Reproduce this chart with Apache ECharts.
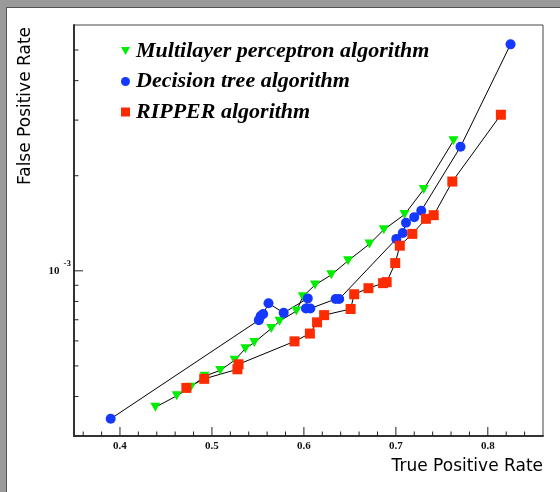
<!DOCTYPE html>
<html><head><meta charset="utf-8">
<script src="https://cdn.jsdelivr.net/npm/echarts@6/dist/echarts.min.js"></script>
<style>html,body{margin:0;padding:0;background:#fff}#c{width:560px;height:492px}</style>
</head><body><div id="c"></div>
<script>
// ---- data ----
const seriesNames = ['Multilayer perceptron algorithm', 'Decision tree algorithm', 'RIPPER algorithm'];

const mlpTPR = [0.4385, 0.4617, 0.477, 0.492, 0.509, 0.5246, 0.5363, 0.546, 0.5646, 0.5735, 0.5918, 0.5988, 0.612, 0.6298, 0.648, 0.6713, 0.6869, 0.7094, 0.7303, 0.7626];
const mlpFPR = [3.70e-4, 4.02e-4, 4.28e-4, 4.64e-4, 4.84e-4, 5.21e-4, 5.67e-4, 5.93e-4, 6.57e-4, 6.93e-4, 7.46e-4, 8.28e-4, 9.02e-4, 9.71e-4, 1.076e-3, 1.216e-3, 1.35e-3, 1.507e-3, 1.81e-3, 2.58e-3];

const dtTPR = [0.3899, 0.551, 0.553, 0.5557, 0.5615, 0.578, 0.6042, 0.6022, 0.607, 0.6345, 0.6384, 0.7005, 0.7075, 0.711, 0.72, 0.7276, 0.7703, 0.8247];
const dtFPR = [3.40e-4, 6.98e-4, 7.19e-4, 7.30e-4, 7.89e-4, 7.36e-4, 8.18e-4, 7.60e-4, 7.60e-4, 8.14e-4, 8.14e-4, 1.262e-3, 1.318e-3, 1.419e-3, 1.479e-3, 1.55e-3, 2.47e-3, 5.21e-3];

const ripTPR = [0.4722, 0.4916, 0.5277, 0.5289, 0.5898, 0.6065, 0.6143, 0.622, 0.6508, 0.6547, 0.6702, 0.6861, 0.69, 0.6993, 0.7043, 0.7179, 0.7327, 0.7412, 0.7614, 0.8142];
const ripFPR = [4.26e-4, 4.55e-4, 4.88e-4, 5.06e-4, 5.98e-4, 6.33e-4, 6.87e-4, 7.24e-4, 7.57e-4, 8.43e-4, 8.81e-4, 9.14e-4, 9.21e-4, 1.058e-3, 1.201e-3, 1.309e-3, 1.461e-3, 1.50e-3, 1.917e-3, 3.12e-3];

const X_MIN = 0.35, X_MAX = 0.86;
const Y_MIN = 3e-4, Y_MAX = 6e-3;
const xTickLabels = ['0.4', '0.5', '0.6', '0.7', '0.8'];
const xMajorTicks = [0.4, 0.5, 0.6, 0.7, 0.8];
const xMinorTicks = [0.36, 0.38, 0.42, 0.44, 0.46, 0.48, 0.52, 0.54, 0.56, 0.58, 0.62, 0.64, 0.66, 0.68, 0.72, 0.74, 0.76, 0.78, 0.82, 0.84];
const yMajorTicks = [1e-3];
const yMinorTicks = [4e-4, 5e-4, 6e-4, 7e-4, 8e-4, 9e-4, 2e-3, 3e-3, 4e-3, 5e-3];

// ---- chart ----
const TRI = 'path://M0,0 L10,0 L5,9 Z';
const chart = echarts.init(document.getElementById('c'), null, {renderer: 'canvas'});

function tickSeries(values, axis, len) {
  return {
    type: 'custom', silent: true, z: 4, animation: false,
    data: values.map(v => axis === 'x' ? [v, Y_MIN] : [X_MIN, v]),
    renderItem: (params, api) => {
      const p = api.coord([api.value(0), api.value(1)]);
      const shape = axis === 'x'
        ? {x1: p[0], y1: p[1], x2: p[0], y2: p[1] - len}
        : {x1: p[0], y1: p[1], x2: p[0] + len, y2: p[1]};
      return {type: 'line', shape, style: {stroke: '#222', lineWidth: 1}};
    }
  };
}

function pts(xs, ys) { return xs.map((x, i) => [x, ys[i]]); }

const option = {
  backgroundColor: '#fff',
  animation: false,
  grid: {left: 74, right: 17, top: 25, bottom: 56, show: true, borderColor: '#444', borderWidth: 1, containLabel: false, outerBoundsMode: 'none'},
  xAxis: {
    type: 'value', min: X_MIN, max: X_MAX,
    axisLine: {lineStyle: {color: '#333', width: 2}},
    axisTick: {show: false}, splitLine: {show: false},
    axisLabel: {
      margin: 5, color: '#111', fontFamily: 'Liberation Serif', fontWeight: 'bold', fontSize: 11,
      formatter: v => { const s = v.toFixed(1); return (Math.abs(v - Number(s)) < 1e-9 && xTickLabels.includes(s)) ? s : ''; }
    }
  },
  yAxis: {
    type: 'log', logBase: 10, min: Y_MIN, max: Y_MAX,
    axisLine: {lineStyle: {color: '#333', width: 2}},
    axisTick: {show: false}, splitLine: {show: false}, minorTick: {show: false},
    axisLabel: {
      margin: 3, color: '#111',
      formatter: v => Math.abs(Math.log10(v) + 3) < 1e-6 ? '{a|10}{b|-3}' : '',
      rich: {
        a: {fontFamily: 'Liberation Serif', fontWeight: 'bold', fontSize: 11, lineHeight: 24, verticalAlign: 'middle', color: '#111'},
        b: {fontFamily: 'Liberation Serif', fontWeight: 'bold', fontSize: 9, lineHeight: 9, verticalAlign: 'top', padding: [0, 0, 0, 4], color: '#111'}
      }
    }
  },
  legend: {
    orient: 'vertical', left: 116, top: 35, itemWidth: 9, itemHeight: 9, itemGap: 8.5,
    selectedMode: false,
    lineStyle: {opacity: 0},
    textStyle: {fontFamily: 'Liberation Serif', fontStyle: 'italic', fontWeight: 'bold', fontSize: 22, lineHeight: 22, color: '#000', padding: [0, 0, 0, 1]},
    data: [{name: seriesNames[0], icon: TRI}, {name: seriesNames[1], icon: 'circle'}, {name: seriesNames[2], icon: 'rect'}]
  },
  graphic: [
    {type: 'rect', z: 100, shape: {x: 0, y: 0, width: 560, height: 7}, style: {fill: '#9a9a9a'}},
    {type: 'rect', z: 100, shape: {x: 0, y: 0, width: 6, height: 492}, style: {fill: '#9a9a9a'}},
    {type: 'line', z: 100, shape: {x1: 6, y1: 7.5, x2: 560, y2: 7.5}, style: {stroke: '#555', lineWidth: 1}},
    {type: 'line', z: 100, shape: {x1: 6.5, y1: 7, x2: 6.5, y2: 492}, style: {stroke: '#555', lineWidth: 1}},
    {type: 'text', z: 100, x: 26, y: 27, rotation: Math.PI / 2,
      style: {text: 'False Positive Rate', fontFamily: 'DejaVu Sans', fontSize: 17, fill: '#000', align: 'right', verticalAlign: 'middle'}},
    {type: 'text', z: 100, x: 543, y: 467,
      style: {text: 'True Positive Rate', fontFamily: 'DejaVu Sans', fontSize: 17, fill: '#000', align: 'right', verticalAlign: 'middle'}}
  ],
  series: [
    {type: 'line', name: seriesNames[0], data: pts(mlpTPR, mlpFPR), symbol: TRI, symbolSize: [10, 9],
      itemStyle: {color: '#00ee00'}, lineStyle: {color: '#000', width: 1}, showAllSymbol: true},
    {type: 'line', name: seriesNames[1], data: pts(dtTPR, dtFPR), symbol: 'circle', symbolSize: 10,
      itemStyle: {color: '#1438ff'}, lineStyle: {color: '#000', width: 1}, showAllSymbol: true},
    {type: 'line', name: seriesNames[2], data: pts(ripTPR, ripFPR), symbol: 'rect', symbolSize: 10,
      itemStyle: {color: '#ff2b00'}, lineStyle: {color: '#000', width: 1}, showAllSymbol: true},
    tickSeries(xMajorTicks, 'x', 9),
    tickSeries(xMinorTicks, 'x', 4.5),
    tickSeries(yMajorTicks, 'y', 9),
    tickSeries(yMinorTicks, 'y', 4.5)
  ]
};
chart.setOption(option);
</script>
</body></html>
